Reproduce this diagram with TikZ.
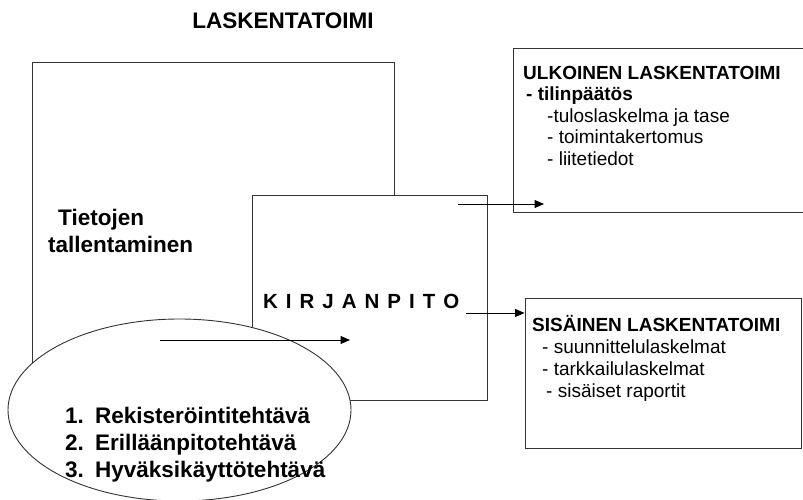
\documentclass[tikz,border=0pt]{standalone}
\usepackage{fontspec}
\setmainfont{Liberation Sans}
\usetikzlibrary{arrows.meta,shapes.geometric,positioning}

\tikzset{
  box/.style={draw=black!80, line width=0.9pt, fill=white, inner sep=0pt},
  flow/.style={draw=black, line width=1pt, -{Triangle[length=9.5pt,width=8pt]}},
  bigtext/.style={font=\fontsize{22.5}{27}\selectfont\bfseries, anchor=base west, inner sep=0pt, align=left},
  listtext/.style={font=\fontsize{19}{21.5}\selectfont, anchor=base west, inner sep=0pt, align=left},
}

\begin{document}
\begin{tikzpicture}[x=1pt, y=-1pt]
      \clip (0,0) rectangle (803,500);
      \fill[white] (0,0) rectangle (803,500);

      \node[box, minimum width=362pt, minimum height=328pt] (store) at (213,226) {};
      \node[box, minimum width=235pt, minimum height=205pt] (book) at (369.5,297.5) {};
      \node[box, ellipse, minimum width=343pt, minimum height=182pt] (tasks) at (179.5,410) {};
      \node[box, minimum width=310pt, minimum height=164pt] (ext) at (668,130) {};
      \node[box, minimum width=276pt, minimum height=150pt] (int) at (663,373) {};

      \coordinate (taskin) at (160,340);
      \coordinate (bookin) at (350,340);
      \coordinate (extout) at (458,204);
      \coordinate (extin) at (544,204);
      \coordinate (intout) at (466,313);
      \draw[flow] (taskin) -- (bookin);
      \draw[flow] (extout) -- (extin);
      \draw[flow] (intout) -- (intout -| int.west);

      % multi-line texts are placed by the baseline of their last line
      \node[font=\fontsize{22.5}{27}\selectfont\bfseries, anchor=base, inner sep=0pt] (head) at (283,29) {LASKENTATOIMI};
      \node[bigtext] (storetext) at (48,252) {\hspace*{10pt}Tietojen\\tallentaminen};
      \node[font=\fontsize{20.5}{24}\selectfont\bfseries, anchor=base west, inner sep=0pt] (booktext) at (263,308)
        {\spaceskip=8pt K I R J A N P I T O};
      \node[bigtext] (tasktext) at (65,477)
        {\makebox[30pt][l]{1.}Rekisteröintitehtävä\\
         \makebox[30pt][l]{2.}Erilläänpitotehtävä\\
         \makebox[30pt][l]{3.}Hyväksikäyttötehtävä};
      \node[listtext] (exttext) at (523,165)
        {\textbf{ULKOINEN LASKENTATOIMI}\\
         \hspace*{3pt}\textbf{- tilinpäätös}\\
         \hspace*{24pt}-tuloslaskelma ja tase\\
         \hspace*{24pt}- toimintakertomus\\
         \hspace*{24pt}- liitetiedot};
      \node[listtext, font=\fontsize{19}{22}\selectfont] (inttext) at (532,397)
        {\textbf{SISÄINEN LASKENTATOIMI}\\
         \hspace*{10pt}- suunnittelulaskelmat\\
         \hspace*{10pt}- tarkkailulaskelmat\\
         \hspace*{14pt}- sisäiset raportit};
    \end{tikzpicture}
\end{document}
